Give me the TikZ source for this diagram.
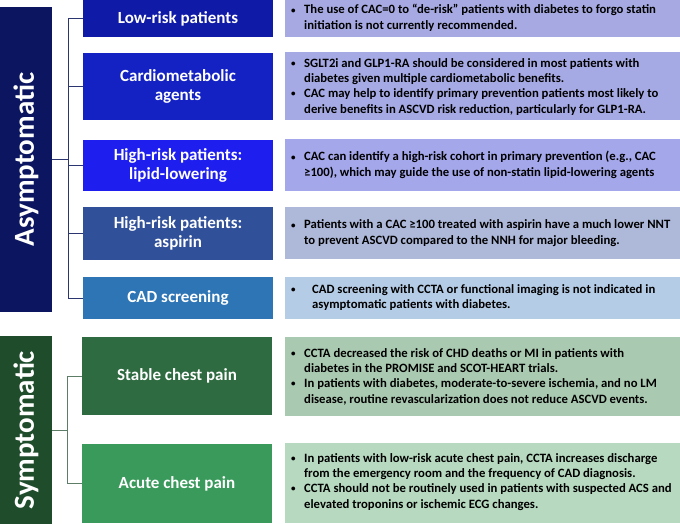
\documentclass[tikz,border=0pt]{standalone}
\usepackage{fontspec}
\setmainfont{Carlito}
\usepackage{array}
\definecolor{navybar}{HTML}{0B1560}
\definecolor{greenbar}{HTML}{1F4D2C}
\definecolor{cA}{HTML}{0F1AA6}
\definecolor{cB}{HTML}{1422C4}
\definecolor{cC}{HTML}{1E1EEE}
\definecolor{cD}{HTML}{30509A}
\definecolor{cE}{HTML}{2E75B6}
\definecolor{cF}{HTML}{2E6B40}
\definecolor{cG}{HTML}{3A9A5C}
\definecolor{rA}{HTML}{A7AAE2}
\definecolor{rB}{HTML}{A6AAE4}
\definecolor{rC}{HTML}{A4A7EA}
\definecolor{rD}{HTML}{AEB9DA}
\definecolor{rE}{HTML}{B5CCE6}
\definecolor{rF}{HTML}{A9C9B0}
\definecolor{rG}{HTML}{B6D9BF}
\definecolor{lineA}{HTML}{2B3570}
\definecolor{lineS}{HTML}{5E7D66}
\tikzset{
  lbox/.style={fill=#1, draw=none, inner sep=0pt, minimum width=190pt, text=white,
    font=\fontsize{17}{19}\selectfont\bfseries, align=center},
  rbox/.style={fill=#1, draw=none, inner sep=0pt, minimum width=395pt},
  bar/.style={fill=#1, draw=none, inner sep=0pt, minimum width=52pt},
  btext/.style={anchor=west, inner sep=0pt, font=\fontsize{12.7}{15.3}\selectfont\bfseries, text=black},
  vlab/.style={rotate=90, text=white, font=\fontsize{29}{30}\selectfont\bfseries, inner sep=0pt},
  conA/.style={draw=lineA, line width=0.9pt},
  conS/.style={draw=lineS, line width=0.9pt}
}
\newcommand{\bt}{\raisebox{0.8pt}{\fontsize{9}{9}\selectfont •}}
\newcommand{\bl}[1]{\begin{tabular}{@{}p{13pt}@{}l@{}}#1\end{tabular}}
\newcommand{\blw}[1]{\begin{tabular}{@{}p{21pt}@{}l@{}}#1\end{tabular}}
\begin{document}
\begin{tikzpicture}[x=1pt,y=-1pt]
\useasboundingbox[fill=white] (0,0) rectangle (680,524);
% side bars
\node[bar=navybar, minimum height=305pt] (A) at (26,159.5) {};
\node[vlab] (At) at (A.center) {Asymptomatic};
\node[bar=greenbar, minimum height=188pt] (S) at (26,430) {};
\node[vlab] (St) at (S.center) {Symptomatic};
% left boxes
\node[lbox=cA, minimum height=37pt] (L1) at (178,18.5) {Low-risk patients};
\node[lbox=cB, minimum height=67pt] (L2) at (178,86.5) {Cardiometabolic\\agents};
\node[lbox=cC, minimum height=51pt] (L3) at (178,165.5) {High-risk patients:\\lipid-lowering};
\node[lbox=cD, minimum height=53pt] (L4) at (178,233.5) {High-risk patients:\\aspirin};
\node[lbox=cE, minimum height=42pt] (L5) at (178,298) {CAD screening};
\node[lbox=cF, minimum height=78pt] (L6) at (177,376) {Stable chest pain};
\node[lbox=cG, minimum height=79pt] (L7) at (177,483.5) {Acute chest pain};
% right boxes
\node[rbox=rA, minimum height=37pt] (R1) at (482.5,18.5) {};
\node[rbox=rB, minimum height=68pt] (R2) at (482.5,86) {};
\node[rbox=rC, minimum height=52pt] (R3) at (482.5,165) {};
\node[rbox=rD, minimum height=52pt] (R4) at (482.5,233) {};
\node[rbox=rE, minimum height=42pt] (R5) at (482.5,298) {};
\node[rbox=rF, minimum height=79pt] (R6) at (482.5,376.5) {};
\node[rbox=rG, minimum height=80pt] (R7) at (482.5,483) {};
% texts
\node[btext] (T1) at (291,18.5) {\bl{\bt&The use of CAC=0 to “de-risk” patients with diabetes to forgo statin\\ &initiation is not currently recommended.}};
\node[btext] (T2) at (291,87) {\bl{\bt&SGLT2i and GLP1-RA should be considered in most patients with\\ &diabetes given multiple cardiometabolic benefits.\\ \bt&CAC may help to identify primary prevention patients most likely to\\ &derive benefits in ASCVD risk reduction, particularly for GLP1-RA.}};
\node[btext] (T3) at (291,165.5) {\bl{\bt&CAC can identify a high-risk cohort in primary prevention (e.g., CAC\\ &≥100), which may guide the use of non-statin lipid-lowering agents}};
\node[btext] (T4) at (291,233.5) {\bl{\bt&Patients with a CAC ≥100 treated with aspirin have a much lower NNT\\ &to prevent ASCVD compared to the NNH for major bleeding.}};
\node[btext] (T5) at (291,298) {\blw{\bt&CAD screening with CCTA or functional imaging is not indicated in\\ &asymptomatic patients with diabetes.}};
\node[btext] (T6) at (291,377) {\bl{\bt&CCTA decreased the risk of CHD deaths or MI in patients with\\ &diabetes in the PROMISE and SCOT-HEART trials.\\ \bt&In patients with diabetes, moderate-to-severe ischemia, and no LM\\ &disease, routine revascularization does not reduce ASCVD events.}};
\node[btext] (T7) at (291,482) {\bl{\bt&In patients with low-risk acute chest pain, CCTA increases discharge\\ &from the emergency room and the frequency of CAD diagnosis.\\ \bt&CCTA should not be routinely used in patients with suspected ACS and\\ &elevated troponins or ischemic ECG changes.}};
% connectors
\coordinate (ta) at (68,159.5);
\draw[conA] (A.east) -- (ta);
\foreach \n in {L1,L2,L3,L4,L5} \draw[conA] (\n.west) -| (ta);
\coordinate (ts) at (67,430);
\draw[conS] (S.east) -- (ts);
\foreach \n in {L6,L7} \draw[conS] (\n.west) -| (ts);
\end{tikzpicture}
\end{document}
